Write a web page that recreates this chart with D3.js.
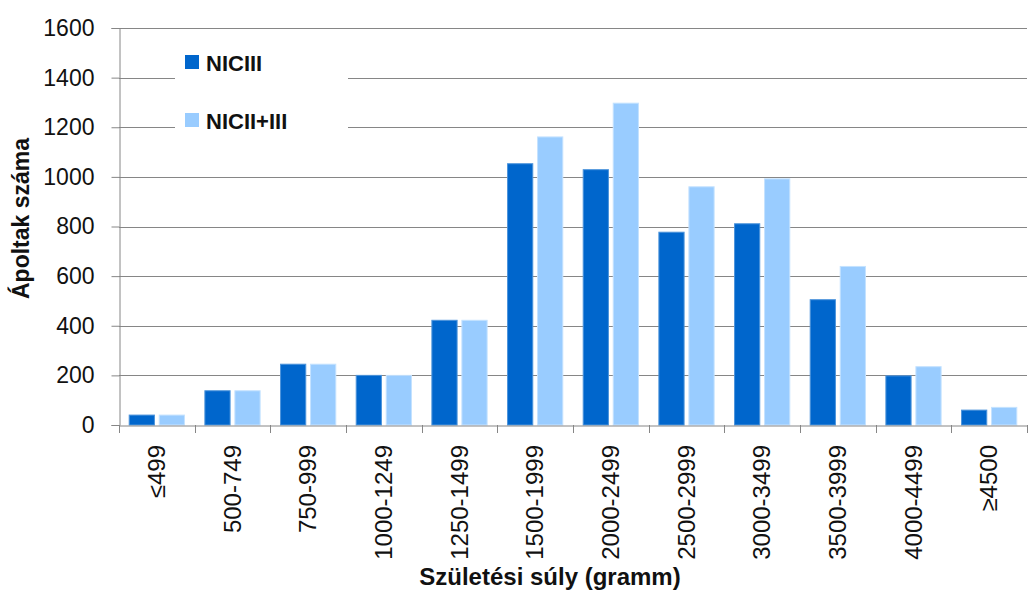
<!DOCTYPE html>
<html>
<head>
<meta charset="utf-8">
<script src="https://cdn.jsdelivr.net/npm/d3@7"></script>
<style>
  html, body { margin: 0; padding: 0; background: #fff; }
  svg { display: block; }
</style>
</head>
<body>
<svg id="chart" width="1028" height="590"></svg>
<script>
const categories = ["≤499","500-749","750-999","1000-1249","1250-1499","1500-1999","2000-2499","2500-2999","3000-3499","3500-3999","4000-4499","≥4500"];
const seriesNames = ["NICIII","NICII+III"];
const nicIII = [40,138,245,200,422,1053,1029,777,811,505,198,60];
const nicIIplusIII = [40,138,245,200,422,1161,1297,960,992,639,235,71];
const yTicks = [0,200,400,600,800,1000,1200,1400,1600];
const colors = ["#0066CC","#99CCFF"];
const strokes = ["#4d94db","#c4e2ff"];

const svg = d3.select("#chart");
const pLeft = 119, pRight = 1027, pTop = 28, pBottom = 425;
const FONT = "'Liberation Sans', Arial, sans-serif";

const x0 = d3.scaleBand().domain(categories).range([pLeft, pRight]).padding(0);
const x1 = d3.scaleBand().domain(seriesNames).range([0, x0.bandwidth()]).paddingInner(0.16).paddingOuter(0.34);
const y = d3.scaleLinear().domain([0,1600]).range([pBottom, pTop]);

// gridlines
svg.append("g").selectAll("line").data(yTicks.filter(d => d > 0)).join("line")
  .attr("x1", pLeft).attr("x2", pRight)
  .attr("y1", d => Math.round(y(d)) + 0.5).attr("y2", d => Math.round(y(d)) + 0.5)
  .attr("stroke", "#868686").attr("stroke-width", 1);

// y axis
const yAxis = d3.axisLeft(y).tickValues(yTicks).tickSize(8).tickPadding(17).tickFormat(d3.format("d"));
const gy = svg.append("g").attr("transform", `translate(${pLeft + 0.5},0)`).call(yAxis);
gy.select(".domain").attr("stroke", "#868686");
gy.selectAll(".tick line").attr("stroke", "#868686");
gy.selectAll(".tick text").attr("font-family", FONT).attr("font-size", 23).attr("fill", "#111");

// bars
const data = categories.map((c, i) => ({cat: c, vals: [nicIII[i], nicIIplusIII[i]]}));
const groups = svg.append("g").selectAll("g").data(data).join("g")
  .attr("transform", d => `translate(${x0(d.cat)},0)`);
groups.selectAll("rect").data(d => d.vals.map((v, j) => ({s: seriesNames[j], v, j}))).join("rect")
  .attr("x", d => x1(d.s))
  .attr("width", x1.bandwidth())
  .attr("y", d => y(d.v))
  .attr("height", d => y(0) - y(d.v))
  .attr("fill", d => colors[d.j])
  .attr("stroke", d => strokes[d.j])
  .attr("stroke-width", 1);

// x axis
const xAxis = d3.axisBottom(x0).tickSize(0).tickFormat("");
const gx = svg.append("g").attr("transform", `translate(0,${pBottom + 0.5})`).call(xAxis);
gx.select(".domain").attr("stroke", "#868686");
gx.selectAll(".tick").remove();
// boundary ticks
const bounds = categories.map(c => x0(c)).concat([pRight]);
svg.append("g").selectAll("line").data(bounds).join("line")
  .attr("x1", d => Math.round(d) + 0.5).attr("x2", d => Math.round(d) + 0.5)
  .attr("y1", pBottom).attr("y2", pBottom + 8)
  .attr("stroke", "#868686");

// x labels rotated
svg.append("g").selectAll("text").data(categories).join("text")
  .attr("transform", d => `translate(${x0(d) + x0.bandwidth()/2 + 8},445) rotate(-90)`)
  .attr("text-anchor", "end")
  .attr("font-family", FONT).attr("font-size", 24).attr("fill", "#111")
  .text(d => d);

// legend
const lg = svg.append("g");
lg.append("rect").attr("x", 175).attr("y", 40).attr("width", 173).attr("height", 108).attr("fill", "#fff");
seriesNames.forEach((s, i) => {
  const yy = 55 + i * 58;
  lg.append("rect").attr("x", 185).attr("y", yy).attr("width", 14).attr("height", 14).attr("fill", colors[i]);
  lg.append("text").attr("x", 206).attr("y", yy + 15.5)
    .attr("font-family", FONT).attr("font-weight", "bold").attr("font-size", 22).attr("fill", "#111")
    .text(s);
});

// axis titles
svg.append("text").attr("transform", `translate(29,${(pTop + pBottom) / 2 - 8}) rotate(-90)`)
  .attr("text-anchor", "middle")
  .attr("font-family", FONT).attr("font-weight", "bold").attr("font-size", 23).attr("fill", "#111")
  .text("Ápoltak száma");
svg.append("text").attr("x", 550).attr("y", 585)
  .attr("text-anchor", "middle")
  .attr("font-family", FONT).attr("font-weight", "bold").attr("font-size", 24).attr("fill", "#111")
  .text("Születési súly (gramm)");
</script>
</body>
</html>
